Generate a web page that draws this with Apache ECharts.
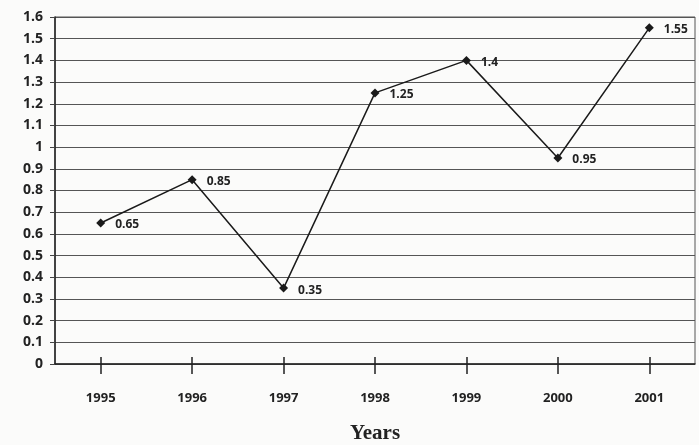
<!DOCTYPE html>
<html>
<head>
<meta charset="utf-8">
<script src="https://cdn.jsdelivr.net/npm/echarts@6/dist/echarts.min.js"></script>
<style>
  html, body { margin: 0; padding: 0; background: #fff; }
  #main { width: 699px; height: 445px; }
</style>
</head>
<body>
<div id="main"></div>
<script>
var years = ['1995', '1996', '1997', '1998', '1999', '2000', '2001'];
var values = [0.65, 0.85, 0.35, 1.25, 1.4, 0.95, 1.55];
var yTicks = ['0', '0.1', '0.2', '0.3', '0.4', '0.5', '0.6', '0.7', '0.8', '0.9', '1', '1.1', '1.2', '1.3', '1.4', '1.5', '1.6'];

var chart = echarts.init(document.getElementById('main'));

var option = {
  backgroundColor: '#fbfbfa',
  grid: {
    left: 55,
    right: 4,
    top: 17,
    bottom: 81,
    outerBoundsMode: 'none',
    containLabel: false,
    show: true,
    borderColor: '#555',
    borderWidth: 1
  },
  xAxis: [{
    type: 'category',
    data: years,
    name: 'Years',
    nameLocation: 'middle',
    nameGap: 59,
    nameTextStyle: {
      fontFamily: 'Liberation Serif',
      fontWeight: 'bold',
      fontSize: 21,
      color: '#222'
    },
    axisLine: { lineStyle: { color: '#222', width: 1.5 } },
    axisTick: {
      show: true,
      alignWithLabel: true,
      length: 10,
      lineStyle: { color: '#222', width: 1.5 }
    },
    axisLabel: {
      margin: 28,
      fontFamily: 'Open Sans',
      fontWeight: 'bold',
      fontSize: 13,
      color: '#222'
    }
  }, {
    // upper half of the crossing ticks
    type: 'category',
    data: years,
    position: 'bottom',
    axisLine: { show: false },
    axisTick: {
      show: true,
      inside: true,
      alignWithLabel: true,
      length: 7,
      lineStyle: { color: '#222', width: 1.5 }
    },
    axisLabel: { show: false },
    splitLine: { show: false }
  }],
  yAxis: {
    type: 'value',
    min: 0,
    max: 1.6,
    interval: 0.1,
    axisLine: { show: true, lineStyle: { color: '#222', width: 1.5 } },
    axisTick: { show: true, length: 5, lineStyle: { color: '#444' } },
    splitLine: { lineStyle: { color: '#555', width: 1 } },
    axisLabel: {
      margin: 12,
      fontFamily: 'Open Sans',
      fontWeight: 'bold',
      fontSize: 14,
      color: '#222',
      formatter: function (v) {
        return yTicks[Math.round(v * 10)];
      }
    }
  },
  series: [{
    type: 'line',
    data: values,
    symbol: 'diamond',
    symbolSize: 9,
    lineStyle: { color: '#1a1a1a', width: 1.5 },
    itemStyle: { color: '#1a1a1a' },
    label: {
      show: true,
      position: 'right',
      distance: 10,
      offset: [0, 2],
      fontFamily: 'Open Sans',
      fontWeight: 'bold',
      fontSize: 12,
      color: '#222'
    },
    animation: false
  }],
  animation: false
};

chart.setOption(option);
</script>
</body>
</html>
